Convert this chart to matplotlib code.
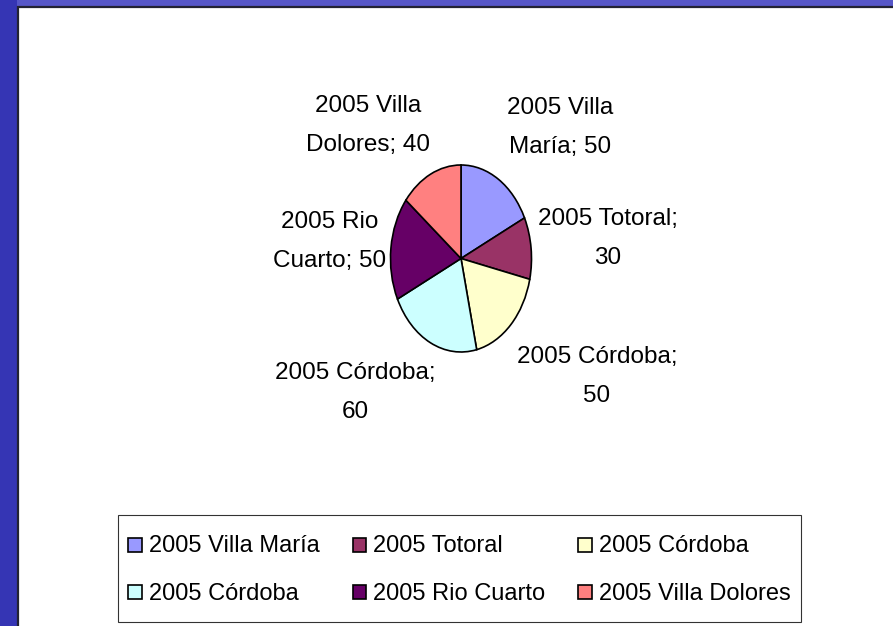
import matplotlib
matplotlib.use("Agg")
import matplotlib.pyplot as plt
from matplotlib.patches import Rectangle, Wedge
from matplotlib.legend_handler import HandlerPatch

categories = ["2005 Villa María", "2005 Totoral", "2005 Córdoba",
              "2005 Córdoba", "2005 Rio Cuarto", "2005 Villa Dolores"]
values = [50, 30, 50, 60, 50, 40]
colors = ["#9999FF", "#993366", "#FFFFCC", "#CCFFFF", "#660066", "#FF8080"]
# whether the data label breaks right after the category name
break_after_value = [False, True, True, True, False, False]

W, H = 893, 626
plt.rcParams['font.family'] = ['Liberation Sans', 'DejaVu Sans']
fig = plt.figure(figsize=(W / 100, H / 100), dpi=100)
fig.patch.set_facecolor("#3a3ab6")

def px(x, y):
    return x / W, 1 - y / H

# slide background strips
fig.patches.append(Rectangle((0, 1 - 7 / H), 1, 7 / H, transform=fig.transFigure,
                             facecolor="#5656c8", edgecolor="none", zorder=-3))
fig.patches.append(Rectangle((0, 0), 17 / W, 1, transform=fig.transFigure,
                             facecolor="#3535b4", edgecolor="none", zorder=-3))
# white chart area with dark border
fig.patches.append(Rectangle((18 / W, -0.01), 1, 1 - 7 / H + 0.01, transform=fig.transFigure,
                             facecolor="white", edgecolor="#222233", linewidth=1.6, zorder=-2))

ax = fig.add_axes([390.5 / W, (H - 352) / H, 141 / W, 187 / H])
wedges, _ = ax.pie(values, colors=colors, startangle=90, counterclock=False,
                   wedgeprops=dict(edgecolor="black", linewidth=1.2))
for w in wedges:
    w.set_clip_on(False)
ax.set_aspect('auto')
ax.set_xlim(-1, 1)
ax.set_ylim(-1, 1)
ax.axis('off')

# data labels
label_pos = [(560, 127), (608, 239), (597, 377), (355, 392), (330, 241), (368, 125)]
for cat, val, brk, (lx, ly) in zip(categories, values, break_after_value, label_pos):
    if brk:
        txt = f"{cat};\n{val}"
    else:
        words = cat.split(" ")
        txt = " ".join(words[:2]) + "\n" + " ".join(words[2:]) + f"; {val}"
    fx, fy = px(lx, ly)
    fig.text(fx, fy, txt, ha="center", va="center", fontsize=17.5, linespacing=2.0,
             color="black")


def square_patch(legend, orig_handle, xdescent, ydescent, width, height, fontsize):
    return Rectangle(xy=(-xdescent, -ydescent + (height - width) / 2),
                     width=width, height=width)


order = [0, 3, 1, 4, 2, 5]
leg = fig.legend([wedges[i] for i in order], [categories[i] for i in order],
                 ncol=3, loc="upper left", bbox_to_anchor=px(118, 515),
                 fontsize=17, frameon=True, fancybox=False, handlelength=0.58,
                 handleheight=2.2, handletextpad=0.3, columnspacing=1.4,
                 labelspacing=0.34, borderpad=0.42, borderaxespad=0,
                 handler_map={Wedge: HandlerPatch(patch_func=square_patch)})
leg.get_frame().set_edgecolor("black")
leg.get_frame().set_linewidth(0.8)

fig.savefig("out.png", dpi=100, facecolor=fig.get_facecolor())
